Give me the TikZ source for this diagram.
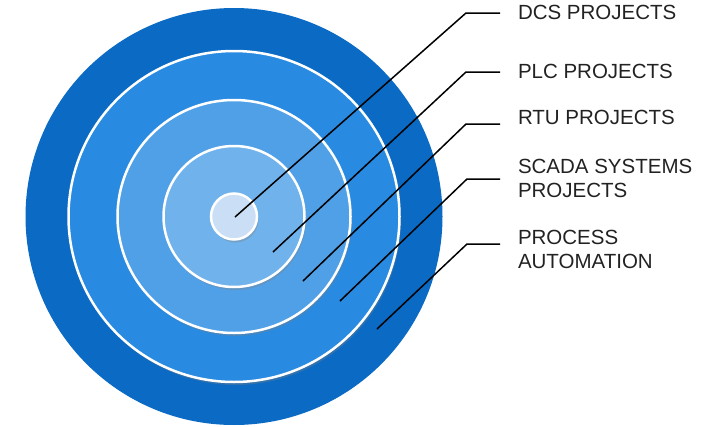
\documentclass[tikz,border=0pt]{standalone}
\usepackage{fontspec}
\setmainfont{Liberation Sans}
\newcommand*{\labelfont}{\fontsize{20.5}{24}\selectfont}
\definecolor{PA}{RGB}{10,106,196}
\definecolor{SC}{RGB}{40,138,225}
\definecolor{RT}{RGB}{80,160,232}
\definecolor{PL}{RGB}{112,178,236}
\definecolor{DC}{RGB}{202,223,245}
\definecolor{ink}{RGB}{34,34,34}
\usetikzlibrary{positioning}
\usetikzlibrary{shadows}
\tikzstyle{base}=[x=1pt, y=-1pt, inner sep=0pt, outer sep=0pt]
\tikzstyle{ring}=[draw=white, line width=2.5pt, drop shadow={shadow xshift=1.5pt, shadow yshift=-3pt, opacity=0.35}]
\tikzstyle{lead}=[black, line width=1.5pt]
\tikzstyle{lbl}=[anchor=west, inner xsep=18pt, align=left, text=ink, font=\labelfont]

\begin{document}
\begin{tikzpicture}[base]
    \useasboundingbox (0,0) rectangle (718,426);
    \coordinate (c) at (234,216.5);
        \fill [PA] (c) circle (208.5);
        \path [ring, fill=SC] (c) circle (165.5);
        \path [ring, fill=RT] (c) circle (116.5);
        \path [ring, fill=PL] (c) circle (70.5);
        \path [ring, fill=DC] (c) circle (23);
    \coordinate (dcsIn) at (235,217);
    \coordinate (plcIn) at (273,252);
    \coordinate (rtuIn) at (303,281);
    \coordinate (scaIn) at (340,301);
    \coordinate (proIn) at (377,329);
    \coordinate (dcsBend) at (466,13);
    \coordinate (plcBend) at (466,72);
    \coordinate (rtuBend) at (466,124);
    \coordinate (scaBend) at (467,179);
    \coordinate (proBend) at (467,244);
        \node [lbl] (dcs) at (500,12) {DCS PROJECTS};
        \node [lbl] (plc) at (500,71) {PLC PROJECTS};
        \node [lbl] (rtu) at (500,117) {RTU PROJECTS};
        \node [lbl] (sca) at (500,178) {SCADA SYSTEMS\\PROJECTS};
        \node [lbl] (pro) at (500,249) {PROCESS\\AUTOMATION};
        \draw [lead] (dcsIn) -- (dcsBend) -- (dcsBend -| dcs.west);
        \draw [lead] (plcIn) -- (plcBend) -- (plcBend -| plc.west);
        \draw [lead] (rtuIn) -- (rtuBend) -- (rtuBend -| rtu.west);
        \draw [lead] (scaIn) -- (scaBend) -- (scaBend -| sca.west);
        \draw [lead] (proIn) -- (proBend) -- (proBend -| pro.west);
\end{tikzpicture}
\end{document}
